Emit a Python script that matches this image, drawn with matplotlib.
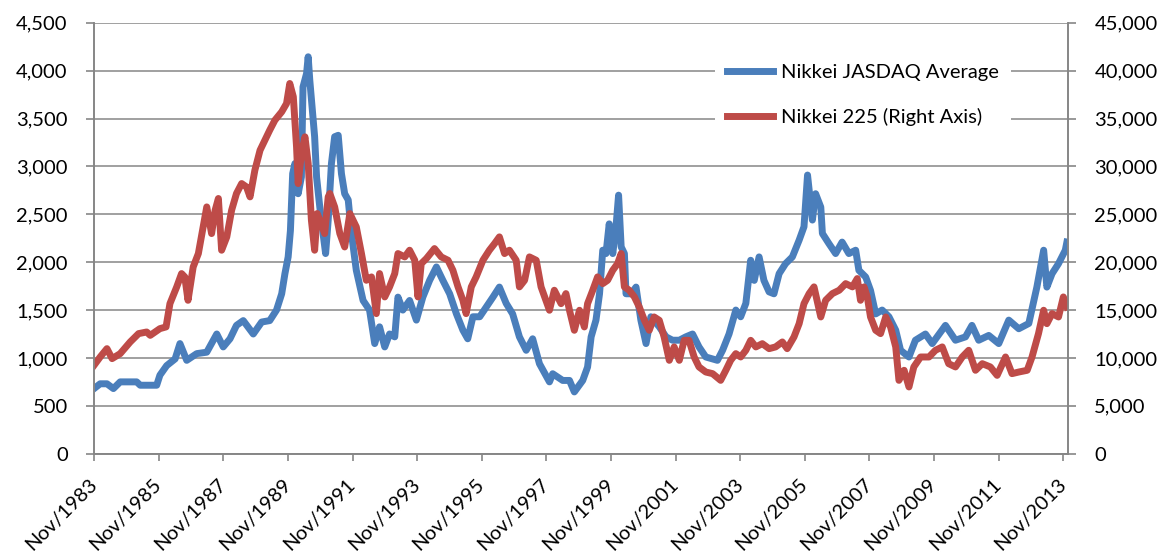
import matplotlib.pyplot as plt

# decimal years (Nov/1983 = 1983.83)
jasdaq_years = [1983.83, 1984.02, 1984.23, 1984.43, 1984.64, 1985.15, 1985.26, 1985.77, 1985.87,
                1986.08, 1986.34, 1986.49, 1986.70, 1987.01, 1987.32, 1987.63, 1987.83, 1988.04,
                1988.24, 1988.45, 1988.76, 1989.02, 1989.27, 1989.48, 1989.64, 1989.74, 1989.84,
                1989.91, 1989.98, 1990.05, 1990.15, 1990.25, 1990.30, 1990.41, 1990.46, 1990.51,
                1990.58, 1990.66, 1990.72, 1990.82, 1990.92, 1991.00, 1991.08, 1991.18, 1991.28,
                1991.39, 1991.49, 1991.59, 1991.70, 1991.80, 1991.95, 1992.16, 1992.36, 1992.52,
                1992.67, 1992.83, 1992.98, 1993.14, 1993.24, 1993.39, 1993.60, 1993.81, 1994.01,
                1994.22, 1994.43, 1994.63, 1994.84, 1995.05, 1995.25, 1995.40, 1995.56, 1995.77,
                1995.97, 1996.18, 1996.38, 1996.59, 1996.79, 1997.00, 1997.21, 1997.41, 1997.62,
                1997.93, 1998.03, 1998.34, 1998.55, 1998.70, 1998.96, 1999.11, 1999.22, 1999.37,
                1999.48, 1999.58, 1999.68, 1999.78, 1999.89, 1999.99, 2000.07, 2000.15, 2000.25,
                2000.30, 2000.46, 2000.61, 2000.76, 2000.92, 2001.07, 2001.33, 2001.54, 2001.74,
                2001.95, 2002.15, 2002.36, 2002.56, 2002.77, 2002.98, 2003.13, 2003.29, 2003.49,
                2003.70, 2003.85, 2004.01, 2004.16, 2004.27, 2004.42, 2004.57, 2004.73, 2004.88,
                2005.04, 2005.24, 2005.45, 2005.66, 2005.81, 2005.92, 2006.07, 2006.17, 2006.33,
                2006.38, 2006.58, 2006.79, 2006.99, 2007.20, 2007.41, 2007.51, 2007.72, 2007.87,
                2008.03, 2008.23, 2008.44, 2008.65, 2008.80, 2009.06, 2009.26, 2009.57, 2009.78,
                2010.19, 2010.50, 2010.81, 2011.01, 2011.22, 2011.53, 2011.84, 2012.15, 2012.46,
                2012.77, 2013.02, 2013.23, 2013.33, 2013.49, 2013.69, 2013.90, 2013.95]
jasdaq = [680, 730, 730, 680, 750, 750, 715, 715, 820,
          920, 990, 1150, 975, 1045, 1060, 1250, 1115, 1200,
          1340, 1390, 1250, 1375, 1390, 1500, 1670, 1880, 2055,
          2330, 2925, 3030, 2715, 2890, 3830, 3970, 4145, 3900,
          3620, 3310, 2890, 2575, 2300, 2090, 2440, 3030, 3310,
          3325, 2925, 2715, 2650, 2300, 1915, 1600, 1500, 1150,
          1325, 1115, 1250, 1220, 1635, 1500, 1600, 1395, 1635,
          1810, 1950, 1810, 1670, 1460, 1290, 1200, 1430, 1430,
          1530, 1635, 1740, 1570, 1460, 1220, 1080, 1200, 940,
          750, 835, 765, 765, 645, 765, 905, 1220, 1395,
          1670, 2125, 2090, 2400, 2090, 2370, 2700, 2160, 2090,
          1670, 1670, 1740, 1395, 1150, 1430, 1325, 1220, 1185,
          1185, 1220, 1250, 1115, 1010, 990, 975, 1080, 1250,
          1500, 1430, 1570, 2020, 1810, 2055, 1810, 1690, 1670,
          1880, 1985, 2055, 2230, 2370, 2910, 2440, 2715, 2575,
          2300, 2195, 2090, 2210, 2090, 2125, 1915, 1845, 1705,
          1460, 1500, 1430, 1290, 1080, 1010, 1185, 1250, 1150,
          1340, 1185, 1220, 1340, 1185, 1235, 1150, 1395, 1305,
          1360, 1740, 2125, 1740, 1880, 1985, 2125, 2210]

n225_years = [1983.83, 1984.02, 1984.23, 1984.39, 1984.64, 1984.95, 1985.21, 1985.46, 1985.57,
              1985.87, 1986.06, 1986.18, 1986.39, 1986.54, 1986.64, 1986.74, 1986.90, 1987.06,
              1987.21, 1987.32, 1987.47, 1987.58, 1987.68, 1987.78, 1987.94, 1988.09, 1988.24,
              1988.40, 1988.55, 1988.66, 1988.81, 1988.97, 1989.12, 1989.27, 1989.43, 1989.64,
              1989.79, 1989.89, 1990.00, 1990.10, 1990.15, 1990.25, 1990.36, 1990.46, 1990.56,
              1990.66, 1990.74, 1990.82, 1990.97, 1991.08, 1991.13, 1991.28, 1991.44, 1991.59,
              1991.75, 1991.95, 1992.11, 1992.26, 1992.42, 1992.57, 1992.67, 1992.83, 1992.98,
              1993.14, 1993.24, 1993.45, 1993.60, 1993.76, 1993.86, 1993.96, 1994.12, 1994.37,
              1994.58, 1994.79, 1994.94, 1995.10, 1995.25, 1995.35, 1995.51, 1995.66, 1995.87,
              1996.07, 1996.23, 1996.38, 1996.54, 1996.69, 1996.90, 1997.00, 1997.16, 1997.31,
              1997.52, 1997.67, 1997.93, 1998.08, 1998.29, 1998.44, 1998.55, 1998.70, 1998.86,
              1999.01, 1999.11, 1999.27, 1999.42, 1999.58, 1999.73, 1999.89, 2000.04, 2000.15,
              2000.25, 2000.40, 2000.56, 2000.71, 2000.87, 2001.02, 2001.17, 2001.33, 2001.48,
              2001.64, 2001.79, 2001.95, 2002.10, 2002.25, 2002.41, 2002.56, 2002.77, 2002.98,
              2003.23, 2003.39, 2003.54, 2003.70, 2003.85, 2004.01, 2004.16, 2004.32, 2004.52,
              2004.73, 2004.93, 2005.14, 2005.29, 2005.50, 2005.66, 2005.81, 2005.97, 2006.12,
              2006.33, 2006.48, 2006.69, 2006.90, 2007.10, 2007.31, 2007.46, 2007.56, 2007.67,
              2007.77, 2007.87, 2008.03, 2008.18, 2008.34, 2008.49, 2008.65, 2008.75, 2008.91,
              2009.06, 2009.21, 2009.42, 2009.68, 2009.88, 2010.09, 2010.29, 2010.50, 2010.71,
              2010.91, 2011.12, 2011.33, 2011.58, 2011.79, 2012.05, 2012.25, 2012.46, 2012.72,
              2012.87, 2013.07, 2013.23, 2013.33, 2013.49, 2013.69, 2013.84, 2013.95]
n225 = [9230, 10100, 10970, 9930, 10450, 11670, 12540, 12710, 12360,
        13060, 13240, 15670, 17420, 18810, 18460, 16020, 19500, 20900,
        23680, 25770, 22990, 25430, 26650, 21250, 22640, 25430, 27170,
        28210, 27860, 26820, 29610, 31690, 32740, 33790, 34830, 35700,
        36570, 38660, 37270, 32040, 28210, 31350, 33090, 30300, 24380,
        21250, 25080, 24380, 22990, 26820, 27170, 25770, 22990, 21590,
        25080, 23680, 20900, 18110, 18460, 14630, 18810, 16370, 17420,
        18810, 20900, 20550, 21250, 20200, 16370, 19850, 20380, 21420,
        20550, 20200, 19160, 17420, 16020, 14630, 17420, 18460, 20200,
        21250, 21940, 22640, 20900, 21250, 20200, 17420, 18110, 20550,
        20200, 17420, 14980, 17070, 15670, 16720, 14980, 12890, 14980,
        13240, 15670, 17070, 18460, 17760, 18110, 19160, 19850, 20900,
        17420, 17070, 16370, 15320, 13930, 12890, 14280, 13930, 12190,
        9750, 11150, 9750, 11840, 11840, 10100, 9060, 8530, 8360,
        7660, 8710, 9750, 10450, 10100, 10800, 11840, 11150, 11490,
        10970, 11150, 11670, 10970, 12190, 13580, 15670, 16720, 17420,
        14280, 16020, 16720, 17070, 17760, 17420, 18290, 16020, 17420,
        16370, 14280, 12890, 12540, 14280, 13240, 11150, 7660, 8710,
        6970, 9060, 10100, 10100, 10800, 11150, 9400, 9060, 10100,
        10800, 8710, 9400, 9060, 8180, 10100, 8360, 8530, 8710,
        10100, 12540, 14980, 13580, 14630, 14280, 16370, 15320]

tick_years = list(range(1983, 2014, 2))
tick_labels = [f"Nov/{y}" for y in tick_years]

plt.rcParams['font.family'] = ['Lato', 'DejaVu Sans']
grey = '#868686'

fig = plt.figure(figsize=(11.62, 5.56), dpi=100)
ax1 = fig.add_axes([0.081, 0.184, 0.838, 0.775])
ax2 = ax1.twinx()

l1, = ax1.plot(jasdaq_years, jasdaq, color='#4A7EBB', lw=5, solid_joinstyle='round',
               label='Nikkei JASDAQ Average')
l2, = ax2.plot(n225_years, n225, color='#BE4B48', lw=5, solid_joinstyle='round',
               label='Nikkei 225 (Right Axis)')

ax1.set_ylim(0, 4500)
ax2.set_ylim(0, 45000)
ax1.set_yticks(range(0, 4501, 500))
ax2.set_yticks(range(0, 45001, 5000))
ax1.set_yticklabels([f"{v:,}" for v in range(0, 4501, 500)])
ax2.set_yticklabels([f"{v:,}" for v in range(0, 45001, 5000)])

ax1.set_xlim(1983.833, 2013.98)
ax1.set_xticks([y + 0.833 for y in tick_years])
ax1.set_xticklabels(tick_labels, rotation=45, ha='right', va='center', rotation_mode='anchor')

ax1.grid(axis='y', color=grey, lw=1.1)
ax1.set_axisbelow(True)
for ax in (ax1, ax2):
    ax.spines['top'].set_visible(False)
    for side in ('left', 'right', 'bottom'):
        ax.spines[side].set_color(grey)
        ax.spines[side].set_linewidth(1.2)
    ax.tick_params(colors=grey, labelcolor='black', labelsize=14.5, length=6, width=1.2, pad=13)
ax1.tick_params(axis='x', length=5, pad=15)

leg = ax2.legend(handles=[l1, l2], loc='center left', bbox_to_anchor=(715 / 1162, 1 - 95 / 556),
                 bbox_transform=fig.transFigure, borderaxespad=0,
                 frameon=True, facecolor='white', edgecolor='none', framealpha=1,
                 fontsize=14.5, handlelength=2.3, handletextpad=0.4, labelspacing=1.35,
                 borderpad=0.6)
leg.set_zorder(10)

fig.savefig('out.png', dpi=100)
